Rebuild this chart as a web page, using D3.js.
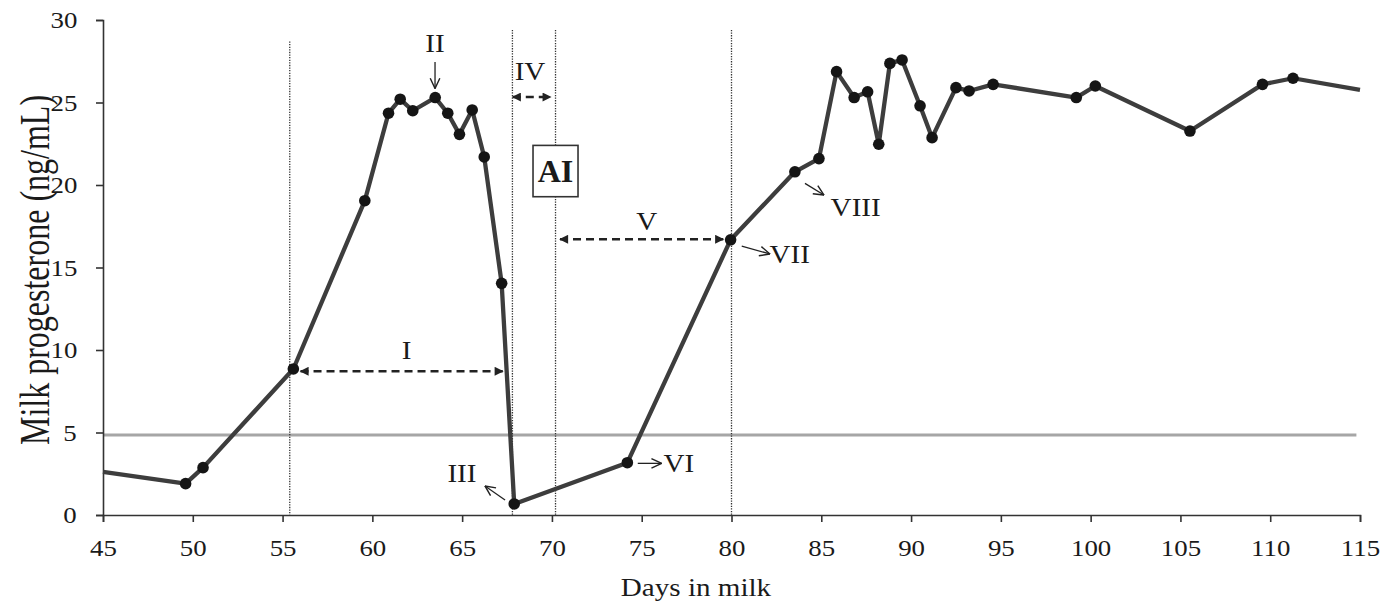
<!DOCTYPE html>
<html>
<head>
<meta charset="utf-8">
<script src="https://cdn.jsdelivr.net/npm/d3@7"></script>
<style>
  body { margin: 0; background: #fff; }
  text { font-family: "Liberation Serif", "Times New Roman", serif; fill: #1a1a1a; }
  .wide { transform-box: fill-box; transform-origin: center; transform: scaleX(1.12); }
  .tall { transform-box: fill-box; transform-origin: center; transform: scaleY(1.3); }
</style>
</head>
<body>
<svg id="chart"></svg>
<script>
// Days in milk / milk progesterone (ng/mL)
const days = [45, 49.6, 50.57, 55.6, 59.58, 60.9, 61.55, 62.25, 63.5, 64.2, 64.85, 65.56, 66.23, 67.2, 67.9,
  74.2, 79.95, 83.53, 84.87, 85.85, 86.83, 87.58, 88.2, 88.82, 89.5, 90.5, 91.17, 92.5, 93.23, 94.57,
  99.2, 100.26, 105.53, 109.57, 111.27, 115];
const progesterone = [2.62, 1.9, 2.87, 8.85, 19.05, 24.35, 25.2, 24.5, 25.3, 24.35, 23.07, 24.55, 21.7, 14.04, 0.67,
  3.17, 16.68, 20.8, 21.6, 26.87, 25.3, 25.65, 22.47, 27.37, 27.58, 24.8, 22.87, 25.9, 25.7, 26.1,
  25.3, 26.0, 23.27, 26.1, 26.47, 25.76];

const xTicks = [45, 50, 55, 60, 65, 70, 75, 80, 85, 90, 95, 100, 105, 110, 115];
const yTicks = [0, 5, 10, 15, 20, 25, 30];

const threshold = 4.85;
const thresholdEnd = 114.8;

const vlineDays = [55.4, 67.8, 70.2, 80];
const vlineTops = [28.7, 29.4, 29.4, 29.4];

// dashed double arrows: label, from, to, level, label x, label y
const spanLabels = ["I", "IV", "V"];
const spanFrom = [56.0, 67.82, 70.45];
const spanTo = [67.26, 69.93, 79.54];
const spanLevel = [8.71, 25.33, 16.71];
const spanTextX = [61.91, 68.78, 75.28];
const spanTextY = [9.45, 26.36, 17.27];

// pointer arrows: label, start, end, label position
const pointLabels = ["II", "III", "VI", "VII", "VIII"];
const pointStart = [[63.49, 27.45], [67.39, 0.91], [74.78, 3.13], [80.57, 16.3], [84.09, 20.1]];
const pointEnd = [[63.49, 25.85], [66.27, 1.76], [76.11, 3.13], [82.14, 15.82], [85.15, 19.39]];
const pointText = [[63.49, 28.06], [64.99, 2.02], [76.3, 2.62], [82.24, 15.25], [85.67, 18.14]];
const pointAnchor = ["middle", "middle", "start", "start", "start"];

// AI box: centre day, top and bottom values
const aiDay = 70.2;
const aiTop = 22.4;
const aiBottom = 19.29;

const W = 1380, H = 604;
const svg = d3.select("#chart").attr("width", W).attr("height", H);

const x = d3.scaleLinear().domain([45, 115]).range([103, 1360]);
const y = d3.scaleLinear().domain([0, 30]).range([515, 20]);

const defs = svg.append("defs");
defs.append("marker")
  .attr("id", "solidHead").attr("markerUnits", "userSpaceOnUse")
  .attr("viewBox", "0 0 10 10").attr("refX", 9).attr("refY", 5)
  .attr("markerWidth", 10).attr("markerHeight", 9).attr("orient", "auto-start-reverse")
  .append("path").attr("d", "M0,0 L10,5 L0,10 z").attr("fill", "#222");
defs.append("marker")
  .attr("id", "openHead").attr("markerUnits", "userSpaceOnUse")
  .attr("viewBox", "0 0 10 10").attr("refX", 9.5).attr("refY", 5)
  .attr("markerWidth", 12).attr("markerHeight", 12).attr("orient", "auto")
  .append("path").attr("d", "M1,1 L9.5,5 L1,9").attr("fill", "none")
  .attr("stroke", "#222").attr("stroke-width", 1.2);

// threshold line
svg.append("line")
  .attr("x1", x(45)).attr("x2", x(thresholdEnd))
  .attr("y1", y(threshold)).attr("y2", y(threshold))
  .attr("stroke", "#a6a6a6").attr("stroke-width", 3);

// dotted verticals
svg.selectAll(".vline").data(vlineDays).enter().append("line")
  .attr("class", "vline")
  .attr("x1", d => x(d)).attr("x2", d => x(d))
  .attr("y1", (d, i) => y(vlineTops[i])).attr("y2", y(0))
  .attr("stroke", "#333").attr("stroke-width", 1.3).attr("stroke-dasharray", "1.3,1.3");

// axes
const yAxis = svg.append("g").attr("transform", `translate(${x(45)},0)`)
  .call(d3.axisLeft(y).tickValues(yTicks).tickSize(7).tickPadding(20));
const xAxis = svg.append("g").attr("transform", `translate(0,${y(0)})`)
  .call(d3.axisBottom(x).tickValues(xTicks).tickSize(7).tickPadding(17));
[xAxis, yAxis].forEach(g => {
  g.select(".domain").attr("stroke", "#333").attr("stroke-width", 1.6);
  g.selectAll(".tick line").attr("stroke", "#333").attr("stroke-width", 1.6);
  g.selectAll(".tick text").attr("class", "wide")
    .style("font-family", '"Liberation Serif", serif').style("font-size", "24px").attr("fill", "#1a1a1a");
});

// series
const pts = days.map((d, i) => [d, progesterone[i]]);
svg.append("path").datum(pts)
  .attr("d", d3.line().x(d => x(d[0])).y(d => y(d[1])))
  .attr("fill", "none").attr("stroke", "#3d3d3d").attr("stroke-width", 4.3).attr("stroke-linejoin", "round");
svg.selectAll(".dot").data(pts.slice(1, -1)).enter().append("circle")
  .attr("class", "dot")
  .attr("cx", d => x(d[0])).attr("cy", d => y(d[1])).attr("r", 5.8)
  .attr("fill", "#151515");

// dashed spans
spanLabels.forEach((lab, i) => {
  svg.append("line")
    .attr("x1", x(spanFrom[i])).attr("x2", x(spanTo[i]))
    .attr("y1", y(spanLevel[i])).attr("y2", y(spanLevel[i]))
    .attr("stroke", "#222").attr("stroke-width", 2.4).attr("stroke-dasharray", "8,5")
    .attr("marker-start", "url(#solidHead)").attr("marker-end", "url(#solidHead)");
  svg.append("text").attr("class", "wide")
    .attr("x", x(spanTextX[i])).attr("y", y(spanTextY[i]))
    .attr("text-anchor", "middle").style("font-size", "26px").text(lab);
});

// pointer arrows
pointLabels.forEach((lab, i) => {
  svg.append("line")
    .attr("x1", x(pointStart[i][0])).attr("y1", y(pointStart[i][1]))
    .attr("x2", x(pointEnd[i][0])).attr("y2", y(pointEnd[i][1]))
    .attr("stroke", "#222").attr("stroke-width", 1.3)
    .attr("marker-end", "url(#openHead)");
  svg.append("text").attr("class", "wide")
    .attr("x", x(pointText[i][0])).attr("y", y(pointText[i][1]))
    .attr("text-anchor", pointAnchor[i]).style("font-size", "26px").text(lab);
});

// AI box
const boxH = y(aiBottom) - y(aiTop);
svg.append("rect")
  .attr("x", x(aiDay) - 22.5).attr("y", y(aiTop))
  .attr("width", 45).attr("height", boxH)
  .attr("fill", "#fff").attr("stroke", "#333").attr("stroke-width", 1.6);
svg.append("text")
  .attr("x", x(aiDay)).attr("y", y(aiTop) + boxH / 2 + 11)
  .attr("text-anchor", "middle").style("font-size", "32px").style("font-weight", "bold").text("AI");

// axis titles
svg.append("text").attr("class", "wide")
  .attr("x", 696).attr("y", 596).attr("text-anchor", "middle")
  .style("font-size", "26px").text("Days in milk");
svg.append("g").attr("transform", "translate(46,270) rotate(-90)")
  .append("text").attr("class", "tall")
  .attr("text-anchor", "middle").style("font-size", "32px").text("Milk progesterone (ng/mL)");
</script>
</body>
</html>
